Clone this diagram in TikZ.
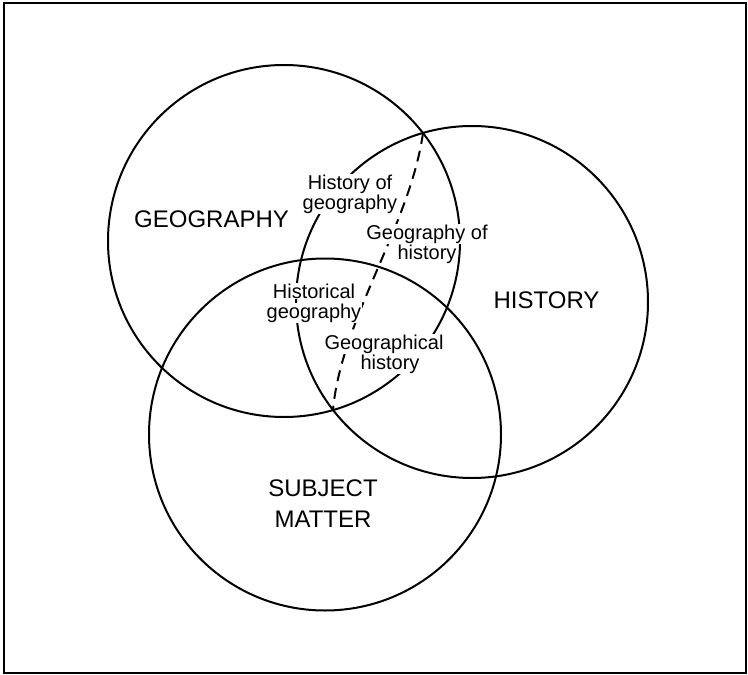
\documentclass[tikz,border=0pt]{standalone}
\usepackage{fontspec}
\setmainfont{Liberation Sans}
\begin{document}
\begin{tikzpicture}[x=1pt,y=-1pt,
  ring/.style={circle,draw,line width=2pt,minimum size=352pt,inner sep=0pt},
  bigtext/.style={font=\fontsize{24}{30.5}\selectfont,align=center,inner sep=0pt},
  smalltext/.style={font=\fontsize{20}{20}\selectfont,align=center,inner sep=0pt},
  divider/.style={line width=2pt,dash pattern=on 11pt off 7pt}]
\useasboundingbox (0,0) rectangle (748,675);
\setlength{\fboxsep}{0.5pt}
\draw[line width=2.4pt] (4,3) rectangle (746,673);
% circles
\node[ring] (geo) at (284,241) {};
\node[ring] (his) at (472,302) {};
\node[ring] (sub) at (325,434.5) {};
% dashed divider between the two intersections of geography and history
\coordinate (gh1) at (423,133);
\coordinate (gh2) at (333,410);
\draw[divider] (gh1) .. controls (410,225) and (341,320) .. (gh2);
% main labels
\node[bigtext,anchor=base] (lgeo) at (211.5,227.7) {GEOGRAPHY};
\node[bigtext,anchor=base] (lhis) at (546.5,308.3) {HISTORY};
\node[bigtext] (lsub) at (323,503.5) {SUBJECT\\MATTER};
% intersection labels
\node[smalltext] (hog) at (350,194) {\colorbox{white}{History of}\\\colorbox{white}{geography}};
\node[smalltext] (goh) at (427,244) {\colorbox{white}{Geography of}\\\colorbox{white}{history}};
\node[smalltext] (hgeo) at (314,303) {\colorbox{white}{Historical}\\\colorbox{white}{geography}};
\node[smalltext] (ghis) at (384,354) {\colorbox{white}{Geographical}\\\hspace*{12pt}\colorbox{white}{history}};
\end{tikzpicture}
\end{document}
